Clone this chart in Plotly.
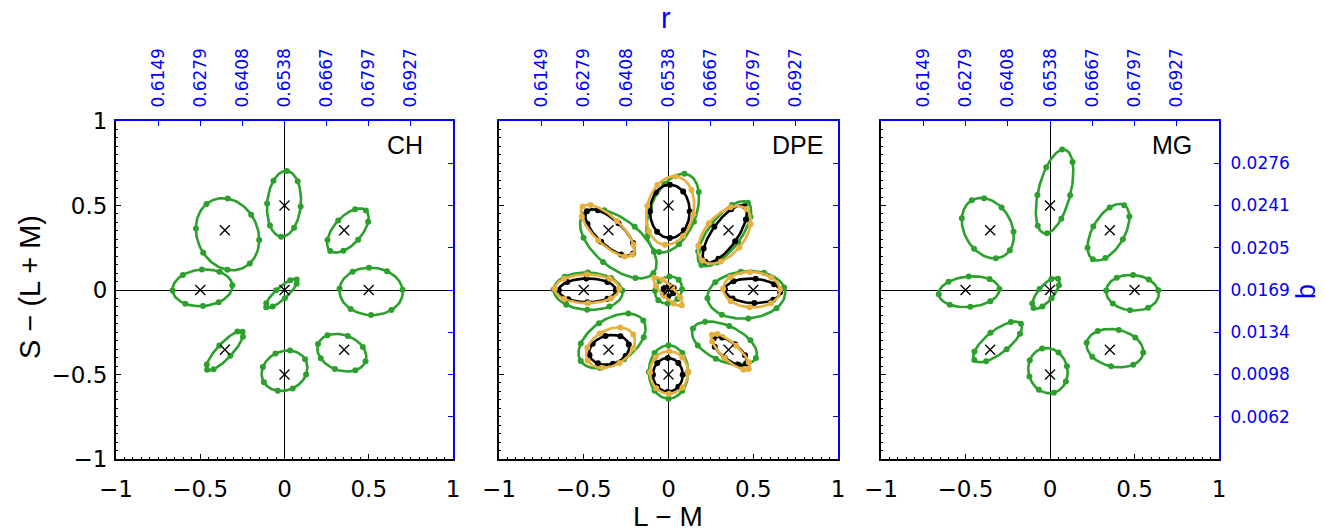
import numpy as np
import plotly.graph_objects as go

W, H = 1325, 531

# target chromaticities (L - M, S - (L + M))
TARGET_X = [0.0, 0.5, 0.354, 0.0, -0.354, -0.5, -0.354, 0.0, 0.354]
TARGET_Y = [0.0, 0.0, 0.354, 0.5, 0.354, 0.0, -0.354, -0.5, -0.354]

X_TICKS = [-1, -0.5, 0, 0.5, 1]
X_TICK_TEXT = ["\u22121", "\u22120.5", "0", "0.5", "1"]
Y_TICKS = [-1, -0.5, 0, 0.5, 1]
Y_TICK_TEXT = ["\u22121", "\u22120.5", "0", "0.5", "1"]

# secondary scales: MacLeod-Boynton r (top) and b (right)
R_TICKS = [-0.75, -0.5, -0.25, 0, 0.25, 0.5, 0.75]
R_TICK_TEXT = ["0.6149", "0.6279", "0.6408", "0.6538", "0.6667", "0.6797", "0.6927"]
B_TICKS = [0.75, 0.5, 0.25, 0, -0.25, -0.5, -0.75]
B_TICK_TEXT = ["0.0276", "0.0241", "0.0205", "0.0169", "0.0134", "0.0098", "0.0062"]

# fitted ellipses, one row per target:
# (centre x, centre y, semi-major, semi-minor, tilt in degrees)
CH_GREEN = [
    (-0.018, -0.020, 0.122, 0.035, 42),
    (0.514, -0.008, 0.188, 0.140, -3),
    (0.376, 0.352, 0.160, 0.082, 48),
    (-0.003, 0.510, 0.195, 0.100, 85),
    (-0.338, 0.330, 0.220, 0.180, 115),
    (-0.487, 0.013, 0.178, 0.108, 5),
    (-0.354, -0.359, 0.154, 0.045, 47),
    (0.000, -0.478, 0.140, 0.115, 25),
    (0.340, -0.371, 0.150, 0.105, -20),
]
CH_GREEN_DOTS = [
    [0, 42, 95, 150, 180, 222, 268, 330],
    [8, 62, 96, 128, 178, 232, 272, 312],
    [0, 40, 88, 140, 182, 228, 270, 318],
    [0, 48, 92, 134, 180, 226, 268, 316],
    [12, 60, 100, 150, 195, 240, 282, 330],
    [0, 52, 88, 128, 180, 232, 268, 300],
    [0, 30, 90, 150, 180, 215, 270, 330],
    [5, 55, 92, 140, 185, 232, 270, 320],
    [0, 45, 90, 140, 180, 225, 268, 318],
]

MG_GREEN = [
    (-0.025, -0.020, 0.113, 0.045, 50),
    (0.488, -0.016, 0.156, 0.105, -5),
    (0.346, 0.342, 0.185, 0.095, 60),
    (0.027, 0.583, 0.255, 0.095, 76),
    (-0.368, 0.366, 0.190, 0.140, 120),
    (-0.479, -0.010, 0.180, 0.090, 5),
    (-0.310, -0.307, 0.175, 0.068, 38),
    (-0.012, -0.477, 0.135, 0.115, 105),
    (0.384, -0.344, 0.170, 0.110, -12),
]
MG_GREEN_DOTS = [
    [0, 40, 92, 150, 180, 230, 270, 320],
    [15, 55, 92, 130, 180, 225, 268, 310],
    [0, 45, 95, 140, 180, 220, 272, 320],
    [10, 60, 100, 150, 190, 235, 270, 320],
    [0, 48, 110, 160, 200, 240, 290, 330],
    [0, 45, 88, 130, 180, 228, 270, 312],
    [0, 40, 90, 145, 180, 225, 275, 320],
    [0, 50, 92, 135, 180, 228, 268, 310],
    [5, 52, 90, 135, 182, 225, 270, 318],
]

DPE_GREEN = [
    (0.000, 0.000, 0.085, 0.075, 45),
    (0.459, -0.029, 0.230, 0.140, 5),
    (0.330, 0.333, 0.230, 0.095, 53),
    (0.025, 0.455, 0.245, 0.135, 68),
    (-0.296, 0.273, 0.270, 0.140, -40),
    (-0.474, -0.007, 0.203, 0.110, -3),
    (-0.333, -0.301, 0.220, 0.130, 33),
    (0.000, -0.485, 0.158, 0.116, 90),
    (0.330, -0.315, 0.205, 0.105, -25),
]
DPE_GREEN_DOTS = [
    [0, 45, 90, 135, 180, 225, 270, 315],
    [10, 60, 95, 140, 180, 228, 270, 318],
    [0, 45, 90, 140, 182, 225, 272, 318],
    [10, 55, 95, 140, 185, 230, 270, 315],
    [0, 45, 88, 135, 180, 228, 270, 320],
    [8, 50, 92, 135, 180, 232, 270, 310],
    [0, 40, 92, 138, 180, 228, 270, 320],
    [0, 45, 90, 135, 180, 225, 270, 315],
    [0, 50, 95, 140, 180, 228, 268, 312],
]

DPE_ORANGE = [
    (-0.003, -0.009, 0.115, 0.035, -45),
    (0.490, 0.002, 0.168, 0.105, -3),
    (0.330, 0.326, 0.200, 0.115, 50),
    (0.010, 0.470, 0.205, 0.138, 78),
    (-0.359, 0.351, 0.205, 0.080, -44),
    (-0.481, 0.007, 0.190, 0.085, 0),
    (-0.342, -0.341, 0.155, 0.105, 30),
    (0.003, -0.488, 0.126, 0.112, 90),
    (0.365, -0.366, 0.148, 0.050, -43),
]
DPE_ORANGE_DOTS = [
    [0, 50, 90, 130, 180, 230, 270, 310],
    [5, 48, 95, 140, 182, 225, 268, 315],
    [0, 42, 92, 138, 180, 228, 270, 318],
    [5, 50, 90, 135, 185, 230, 272, 315],
    [0, 35, 90, 150, 180, 215, 270, 330],
    [0, 45, 90, 135, 180, 225, 272, 318],
    [0, 45, 95, 140, 180, 228, 270, 318],
    [0, 45, 90, 138, 180, 225, 270, 315],
    [0, 35, 90, 150, 180, 215, 270, 330],
]

DPE_BLACK = [
    (0.000, -0.005, 0.035, 0.030, 30),
    (0.496, -0.005, 0.163, 0.072, -3),
    (0.332, 0.331, 0.200, 0.075, 55),
    (0.008, 0.465, 0.158, 0.117, 90),
    (-0.346, 0.340, 0.185, 0.075, -43),
    (-0.479, -0.002, 0.168, 0.070, 0),
    (-0.350, -0.354, 0.120, 0.085, 15),
    (-0.004, -0.502, 0.100, 0.088, 90),
    (0.362, -0.361, 0.121, 0.050, -38),
]
DPE_BLACK_DOTS = [
    [0, 60, 120, 180, 240, 300],
    [0, 40, 85, 135, 180, 225, 275, 320],
    [0, 45, 90, 135, 180, 225, 270, 315],
    [0, 45, 90, 140, 180, 225, 270, 318],
    [0, 40, 90, 140, 180, 225, 270, 318],
    [0, 45, 92, 135, 180, 228, 270, 315],
    [0, 45, 90, 135, 180, 225, 270, 315],
    [0, 45, 90, 135, 180, 225, 270, 315],
    [0, 45, 90, 135, 180, 225, 270, 315],
]

GREEN = "#2ca02c"
ORANGE = "#e6b03f"
BLACK = "#000000"
BLUE = "#0000ff"
FONT = "DejaVu Sans, Verdana, sans-serif"
TITLE_FONT = "Liberation Sans, Arial, Helvetica, sans-serif"


def ellipse_point(row, t_deg):
    cx, cy, a, b, ang = row
    t = np.radians(np.asarray(t_deg, dtype=float))
    th = np.radians(ang)
    x = cx + a * np.cos(t) * np.cos(th) - b * np.sin(t) * np.sin(th)
    y = cy + a * np.cos(t) * np.sin(th) + b * np.sin(t) * np.cos(th)
    return x, y


def outline_trace(rows, color, width, xa, ya):
    xs, ys = [], []
    t = np.linspace(0, 360, 121)
    for row in rows:
        x, y = ellipse_point(row, t)
        xs += list(x) + [None]
        ys += list(y) + [None]
    return go.Scatter(x=xs, y=ys, mode="lines", line=dict(color=color, width=width),
                      xaxis=xa, yaxis=ya, hoverinfo="skip", showlegend=False)


def dots_trace(rows, dots, color, size, xa, ya):
    xs, ys = [], []
    for row, ts in zip(rows, dots):
        x, y = ellipse_point(row, ts)
        xs += list(x)
        ys += list(y)
    return go.Scatter(x=xs, y=ys, mode="markers", marker=dict(color=color, size=size),
                      xaxis=xa, yaxis=ya, hoverinfo="skip", showlegend=False)


def targets_trace(xa, ya):
    return go.Scatter(x=TARGET_X, y=TARGET_Y, mode="markers",
                      marker=dict(symbol="x-thin", size=10, line=dict(color=BLACK, width=1.3)),
                      xaxis=xa, yaxis=ya, hoverinfo="skip", showlegend=False)


fig = go.Figure()

# panel frames in pixels (left, right) and shared top/bottom
PANEL_X = [(116, 453), (499, 838), (881, 1219)]
TOP, BOTTOM = 121, 459

panels = [
    ("CH", [(CH_GREEN, CH_GREEN_DOTS, GREEN)]),
    ("DPE", [(DPE_GREEN, DPE_GREEN_DOTS, GREEN),
             (DPE_BLACK, DPE_BLACK_DOTS, BLACK),
             (DPE_ORANGE, DPE_ORANGE_DOTS, ORANGE)]),
    ("MG", [(MG_GREEN, MG_GREEN_DOTS, GREEN)]),
]

layout = dict(
    width=W, height=H,
    margin=dict(l=0, r=0, t=0, b=0, autoexpand=False),
    paper_bgcolor="white", plot_bgcolor="white",
    font=dict(family=FONT, color="black"),
    showlegend=False,
)

for k, (name, series) in enumerate(panels, start=1):
    xa = "x" if k == 1 else f"x{k}"
    ya = "y" if k == 1 else f"y{k}"
    xt, yr = f"x{k + 3}", f"y{k + 3}"

    for rows, dots, color in series:
        fig.add_trace(outline_trace(rows, color, 2.6, xa, ya))
        fig.add_trace(dots_trace(rows, dots, color, 6, xa, ya))
    fig.add_trace(targets_trace(xa, ya))
    # carrier for the top / right scales
    fig.add_trace(go.Scatter(x=[0], y=[0], mode="markers", marker=dict(opacity=0),
                             xaxis=xt, yaxis=yr, hoverinfo="skip", showlegend=False))

    l, r = PANEL_X[k - 1]
    dom_x = [l / W, r / W]
    dom_y = [1 - BOTTOM / H, 1 - TOP / H]

    layout["xaxis" if k == 1 else f"xaxis{k}"] = dict(
        domain=dom_x, anchor=ya, range=[-1, 1], automargin=False,
        tickmode="array", tickvals=X_TICKS, ticktext=X_TICK_TEXT,
        ticks="inside", ticklen=5, tickwidth=1, tickcolor="black",
        minor=dict(ticks="inside", ticklen=2, tickwidth=1, tickcolor="black",
                   tickmode="linear", tick0=0, dtick=0.05),
        showline=True, linecolor="black", linewidth=2,
        showgrid=False, zeroline=True, zerolinecolor="black", zerolinewidth=1.2,
        tickfont=dict(size=23, family=FONT, color="black"), ticklabelstandoff=8,
        fixedrange=True,
    )
    layout["yaxis" if k == 1 else f"yaxis{k}"] = dict(
        domain=dom_y, anchor=xa, range=[-1, 1], automargin=False,
        tickmode="array", tickvals=Y_TICKS, ticktext=Y_TICK_TEXT,
        showticklabels=(k == 1),
        ticks="inside", ticklen=5, tickwidth=1, tickcolor="black",
        minor=dict(ticks="inside", ticklen=2, tickwidth=1, tickcolor="black",
                   tickmode="linear", tick0=0, dtick=0.05),
        showline=True, linecolor="black", linewidth=2,
        showgrid=False, zeroline=True, zerolinecolor="black", zerolinewidth=1.2,
        tickfont=dict(size=23, family=FONT, color="black"), ticklabelstandoff=2,
        fixedrange=True,
    )
    layout[f"xaxis{k + 3}"] = dict(
        overlaying=xa, anchor=ya, side="top", range=[-1, 1], automargin=False,
        tickmode="array", tickvals=R_TICKS, ticktext=R_TICK_TEXT, tickangle=-90,
        ticks="inside", ticklen=5, tickwidth=1, tickcolor=BLUE,
        showline=True, linecolor=BLUE, linewidth=2,
        showgrid=False, zeroline=False,
        tickfont=dict(size=17, family=FONT, color=BLUE), ticklabelstandoff=8,
        fixedrange=True,
    )
    layout[f"yaxis{k + 3}"] = dict(
        overlaying=ya, anchor=xa, side="right", range=[-1, 1], automargin=False,
        tickmode="array", tickvals=B_TICKS, ticktext=B_TICK_TEXT,
        showticklabels=(k == 3),
        ticks="inside", ticklen=5, tickwidth=1, tickcolor=BLUE,
        showline=True, linecolor=BLUE, linewidth=2,
        showgrid=False, zeroline=False,
        tickfont=dict(size=17, family=FONT, color=BLUE), ticklabelstandoff=6,
        fixedrange=True,
    )

fig.update_layout(**layout)


def px_x(p):
    return p / W


def px_y(p):
    return 1 - p / H


annotations = [
    dict(text="CH", x=px_x(405), y=px_y(145), size=25, color="black", angle=0),
    dict(text="DPE", x=px_x(797), y=px_y(145), size=25, color="black", angle=0),
    dict(text="MG", x=px_x(1172), y=px_y(145), size=25, color="black", angle=0),
    dict(text="S \u2212 (L + M)", x=px_x(30), y=px_y(287), size=29, color="black", angle=-90),
    dict(text="L \u2212 M", x=px_x(668), y=px_y(516), size=28, color="black", angle=0),
    dict(text="r", x=px_x(666), y=px_y(18), size=29, color=BLUE, angle=0),
    dict(text="b", x=px_x(1306), y=px_y(292), size=27, color=BLUE, angle=-90),
]
for a in annotations:
    fig.add_annotation(text=a["text"], x=a["x"], y=a["y"], xref="paper", yref="paper",
                       showarrow=False, textangle=a["angle"],
                       font=dict(size=a["size"], color=a["color"], family=TITLE_FONT),
                       xanchor="center", yanchor="middle")

fig.write_html("out.html")
